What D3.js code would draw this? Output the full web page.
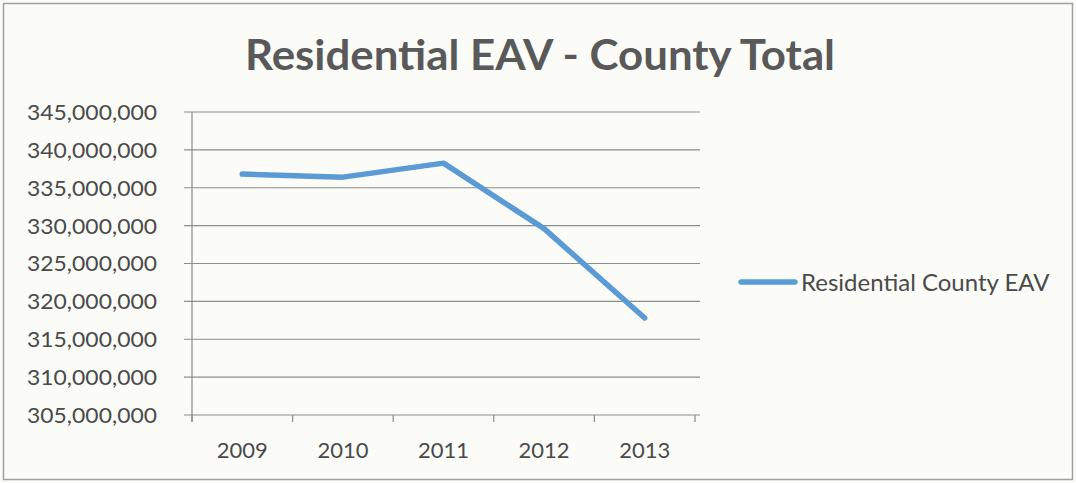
<!DOCTYPE html>
<html><head><meta charset="utf-8">
<script src="https://cdn.jsdelivr.net/npm/d3@7"></script>
<style>html,body{margin:0;padding:0;background:#fbfbf8;}svg{display:block;}</style>
</head><body>
<svg id="c" width="1076" height="483"></svg>
<script>
const years = ["2009","2010","2011","2012","2013"];
const eav = [336800000, 336400000, 338250000, 329600000, 317800000];
const yTicks = [305000000,310000000,315000000,320000000,325000000,330000000,335000000,340000000,345000000];
const seriesName = "Residential County EAV";
const title = "Residential EAV - County Total";

(function(){
const svg = d3.select("#c");
const W = 1076, H = 483;
const pL = 192, pR = 695, pT = 112, pB = 415;

svg.append("rect").attr("x",3.5).attr("y",3.5).attr("width",W-7).attr("height",H-7)
  .attr("fill","#fbfbf8").attr("stroke","#a0a0a0").attr("stroke-width",1.5);

const x = d3.scaleBand().domain(years).range([pL,pR]);
const y = d3.scaleLinear().domain([305000000,345000000]).range([pB,pT]);

const font = "Lato, 'Open Sans', sans-serif";

svg.append("g").selectAll("line").data(yTicks).join("line")
  .attr("x1",pL-8).attr("x2",pR+5)
  .attr("y1",d=>y(d)).attr("y2",d=>y(d))
  .attr("stroke","#8c8c8c").attr("stroke-width",1.2);

svg.append("line").attr("x1",pL).attr("x2",pL).attr("y1",pT).attr("y2",pB+7)
  .attr("stroke","#8c8c8c").attr("stroke-width",1.2);

const xt = years.map(d=>x(d)).concat([pR]);
svg.append("g").selectAll("line").data(xt).join("line")
  .attr("x1",d=>d).attr("x2",d=>d).attr("y1",pB).attr("y2",pB+7)
  .attr("stroke","#8c8c8c").attr("stroke-width",1.2);

const fmt = d3.format(",");
svg.append("g").selectAll("text").data(yTicks).join("text")
  .attr("x",157).attr("y",d=>y(d)).attr("dy","0.36em")
  .attr("text-anchor","end").attr("font-family",font).attr("font-size",22)
  .attr("textLength",130).attr("lengthAdjust","spacingAndGlyphs")
  .attr("fill","#4a4a4a").text(d=>fmt(d));

svg.append("g").selectAll("text").data(years).join("text")
  .attr("x",d=>x(d)+x.bandwidth()/2).attr("y",458)
  .attr("text-anchor","middle").attr("font-family",font).attr("font-size",22)
  .attr("fill","#4a4a4a").text(d=>d);

const line = d3.line().x((d,i)=>x(years[i])+x.bandwidth()/2).y(d=>y(d));
svg.append("path").datum(eav).attr("d",line)
  .attr("fill","none").attr("stroke","#5a9bd5").attr("stroke-width",5.5)
  .attr("stroke-linejoin","round").attr("stroke-linecap","round");

svg.append("line").attr("x1",741).attr("x2",795).attr("y1",282).attr("y2",282)
  .attr("stroke","#5a9bd5").attr("stroke-width",5.5).attr("stroke-linecap","round");
svg.append("text").attr("x",801).attr("y",282).attr("dy","0.36em")
  .attr("font-family",font).attr("font-size",24).attr("fill","#4a4a4a").text(seriesName);

svg.append("text").attr("x",540).attr("y",70).attr("text-anchor","middle")
  .attr("font-family",font).attr("font-weight","bold").attr("font-size",42)
  .attr("textLength",590).attr("lengthAdjust","spacingAndGlyphs")
  .attr("fill","#595959").text(title);
})();
</script>
</body></html>
